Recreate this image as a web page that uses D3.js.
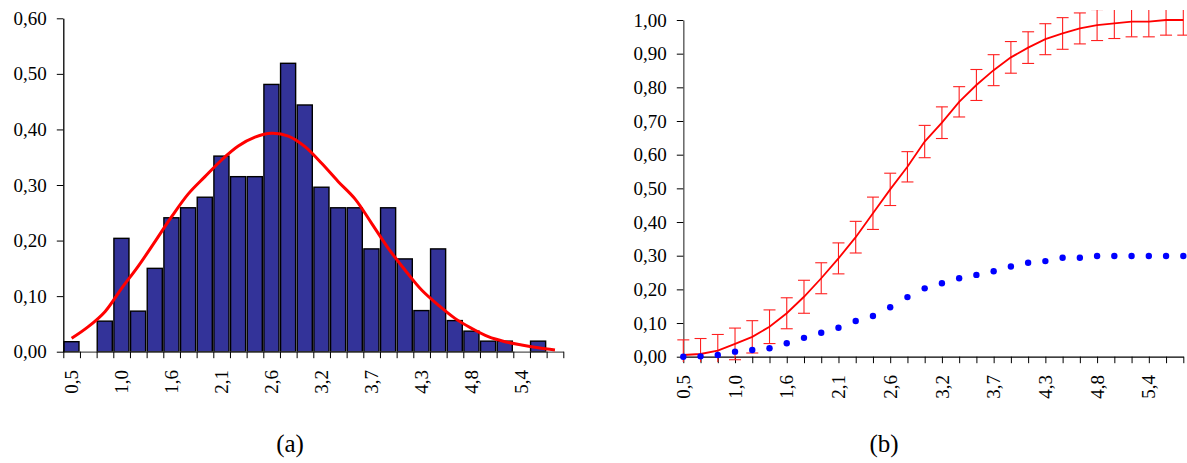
<!DOCTYPE html>
<html>
<head>
<meta charset="utf-8">
<script src="https://cdn.jsdelivr.net/npm/d3@7"></script>
<style>
  body { margin: 0; background: #fff; }
  svg text { font-family: "Liberation Serif", "Times New Roman", serif; fill: #000; }
</style>
</head>
<body>
<div id="chart"></div>
<script>
// tick labels shared by both panels (only every third category is labelled)
var xTickLabels = ["0,5","","","1,0","","","1,6","","","2,1","","","2,6","","","3,2","","","3,7","","","4,3","","","4,8","","","5,4","",""];

// (a) histogram + fitted density
var histValues = [0.018,0,0.055,0.204,0.073,0.150,0.241,0.259,0.278,0.352,0.315,0.315,0.481,0.519,0.444,0.296,0.259,0.259,0.185,0.259,0.167,0.074,0.185,0.056,0.037,0.019,0.019,0,0.019,0];
var densityValues = [0.024,0.045,0.072,0.114,0.154,0.198,0.243,0.284,0.315,0.345,0.370,0.386,0.393,0.388,0.369,0.339,0.306,0.275,0.231,0.186,0.147,0.111,0.084,0.060,0.042,0.027,0.018,0.012,0.007,0.003];
var yTicksA = [0,0.1,0.2,0.3,0.4,0.5,0.6];

// (b) cumulative curve with error bars + blue dots
var cdfValues = [0.005,0.008,0.018,0.038,0.059,0.089,0.129,0.178,0.233,0.292,0.355,0.426,0.497,0.564,0.639,0.695,0.757,0.807,0.851,0.889,0.918,0.943,0.960,0.975,0.985,0.990,0.995,0.995,1.0,1.0];
var cdfErrors = [0.045,0.046,0.048,0.047,0.048,0.050,0.046,0.049,0.046,0.046,0.047,0.048,0.048,0.045,0.048,0.047,0.045,0.046,0.046,0.047,0.047,0.046,0.047,0.046,0.046,0.045,0.045,0.045,0.045,0.045];
var dotValues = [0.000,0.001,0.005,0.015,0.020,0.025,0.040,0.056,0.071,0.086,0.106,0.121,0.147,0.177,0.203,0.218,0.233,0.243,0.254,0.268,0.279,0.284,0.294,0.294,0.299,0.299,0.299,0.299,0.299,0.299];
var yTicksB = [0,0.1,0.2,0.3,0.4,0.5,0.6,0.7,0.8,0.9,1.0];

var W = 1187, H = 463;
var fmt = function(d) { return d3.format(".2f")(d).replace(".", ","); };

var svg = d3.select("#chart").append("svg")
    .attr("width", W).attr("height", H);

var idx = xTickLabels.map(function(d, i) { return i; });

// ---------- panel (a) ----------
var xA = d3.scaleBand().domain(idx).range([63.3, 563.3]);
var xEdgeA = d3.scaleLinear().domain([0, idx.length]).range([63.3, 563.3]);
var yA = d3.scaleLinear().domain([0, 0.6]).range([351.7, 18.3]);

var gA = svg.append("g");

// bars (empty classes are skipped)
var bars = histValues.map(function(v, i) { return {i: i, v: v}; })
    .filter(function(d) { return d.v > 0; });

gA.selectAll("rect.bar")
  .data(bars)
  .enter().append("rect")
    .attr("class", "bar")
    .attr("x", function(d) { return xA(d.i) + 0.6; })
    .attr("y", function(d) { return yA(d.v); })
    .attr("width", xA.bandwidth() - 1.6)
    .attr("height", function(d) { return yA(0) - yA(d.v); })
    .attr("fill", "#333399")
    .attr("stroke", "#000")
    .attr("stroke-width", 1.4);

// x axis (a)
var axA = gA.append("g")
    .attr("transform", "translate(0," + yA(0) + ")")
    .call(d3.axisBottom(xEdgeA).tickValues(d3.range(idx.length + 1)).tickSize(6.5).tickSizeOuter(0).tickFormat(""));
axA.select(".domain").attr("stroke", "#555").attr("stroke-width", 1.3);
axA.selectAll(".tick line").attr("stroke", "#000");

gA.selectAll("text.xl")
  .data(xTickLabels)
  .enter().append("text")
    .attr("class", "xl")
    .attr("transform", function(d, i) { return "translate(" + (xA(i) + xA.bandwidth() / 2) + ",370) rotate(-90)"; })
    .attr("dy", "0.35em")
    .attr("text-anchor", "end")
    .style("font-size", "19px")
    .text(function(d) { return d; });

// y axis (a)
var ayA = gA.append("g")
    .attr("transform", "translate(63.3,0)")
    .call(d3.axisLeft(yA).tickValues(yTicksA).tickFormat(fmt).tickSize(6.5).tickSizeOuter(0).tickPadding(10));
ayA.select(".domain").attr("stroke", "#000").attr("stroke-width", 1.3);
ayA.selectAll("text").style("font-size", "19px");

// density curve
gA.append("path")
  .datum(densityValues)
  .attr("fill", "none")
  .attr("stroke", "#ff0000")
  .attr("stroke-width", 3)
  .attr("stroke-linejoin", "round")
  .attr("d", d3.line()
      .curve(d3.curveCatmullRom)
      .x(function(d, i) { return xA(i) + xA.bandwidth() / 2; })
      .y(function(d) { return yA(d); }));

gA.append("text")
  .attr("x", 290).attr("y", 452)
  .attr("text-anchor", "middle")
  .style("font-size", "25px")
  .text("(a)");

// ---------- panel (b) ----------
var xB = d3.scalePoint().domain(idx).range([683.3, 1183.3]);
var yB = d3.scaleLinear().domain([0, 1]).range([356.7, 20]);

var gB = svg.append("g");

svg.append("clipPath").attr("id", "clipB")
  .append("rect")
    .attr("x", 670).attr("y", yB(1.03))
    .attr("width", 530).attr("height", yB(-0.016) - yB(1.03));

// x axis (b)
var axB = gB.append("g")
    .attr("transform", "translate(0," + yB(0) + ")")
    .call(d3.axisBottom(xB).tickSize(6.5).tickSizeOuter(0).tickFormat(""));
axB.select(".domain").attr("stroke", "#000").attr("stroke-width", 1.3);

gB.selectAll("text.xl")
  .data(xTickLabels)
  .enter().append("text")
    .attr("class", "xl")
    .attr("transform", function(d, i) { return "translate(" + xB(i) + ",375) rotate(-90)"; })
    .attr("dy", "0.35em")
    .attr("text-anchor", "end")
    .style("font-size", "19px")
    .text(function(d) { return d; });

// y axis (b)
var ayB = gB.append("g")
    .attr("transform", "translate(683.3,0)")
    .call(d3.axisLeft(yB).tickValues(yTicksB).tickFormat(fmt).tickSize(6.5).tickSizeOuter(0).tickPadding(10));
ayB.select(".domain").attr("stroke", "#666").attr("stroke-width", 1.5);
ayB.selectAll("text").style("font-size", "19px");

// error bars
var eb = gB.append("g").attr("clip-path", "url(#clipB)")
    .attr("stroke", "#ff2020").attr("stroke-width", 1.1);
cdfValues.forEach(function(v, i) {
  var x = xB(i), e = cdfErrors[i];
  eb.append("line").attr("x1", x).attr("x2", x).attr("y1", yB(v + e)).attr("y2", yB(v - e));
  eb.append("line").attr("x1", x - 6).attr("x2", x + 6).attr("y1", yB(v + e)).attr("y2", yB(v + e));
  eb.append("line").attr("x1", x - 6).attr("x2", x + 6).attr("y1", yB(v - e)).attr("y2", yB(v - e));
});

// cumulative line
gB.append("path")
  .datum(cdfValues)
  .attr("fill", "none")
  .attr("stroke", "#ff0000")
  .attr("stroke-width", 1.8)
  .attr("d", d3.line()
      .x(function(d, i) { return xB(i); })
      .y(function(d) { return yB(d); }));

// blue dots
gB.selectAll("circle.dot")
  .data(dotValues)
  .enter().append("circle")
    .attr("class", "dot")
    .attr("cx", function(d, i) { return xB(i); })
    .attr("cy", function(d) { return yB(d); })
    .attr("r", 3.2)
    .attr("fill", "#0000ff");

gB.append("text")
  .attr("x", 884).attr("y", 452)
  .attr("text-anchor", "middle")
  .style("font-size", "25px")
  .text("(b)");
</script>
</body>
</html>
